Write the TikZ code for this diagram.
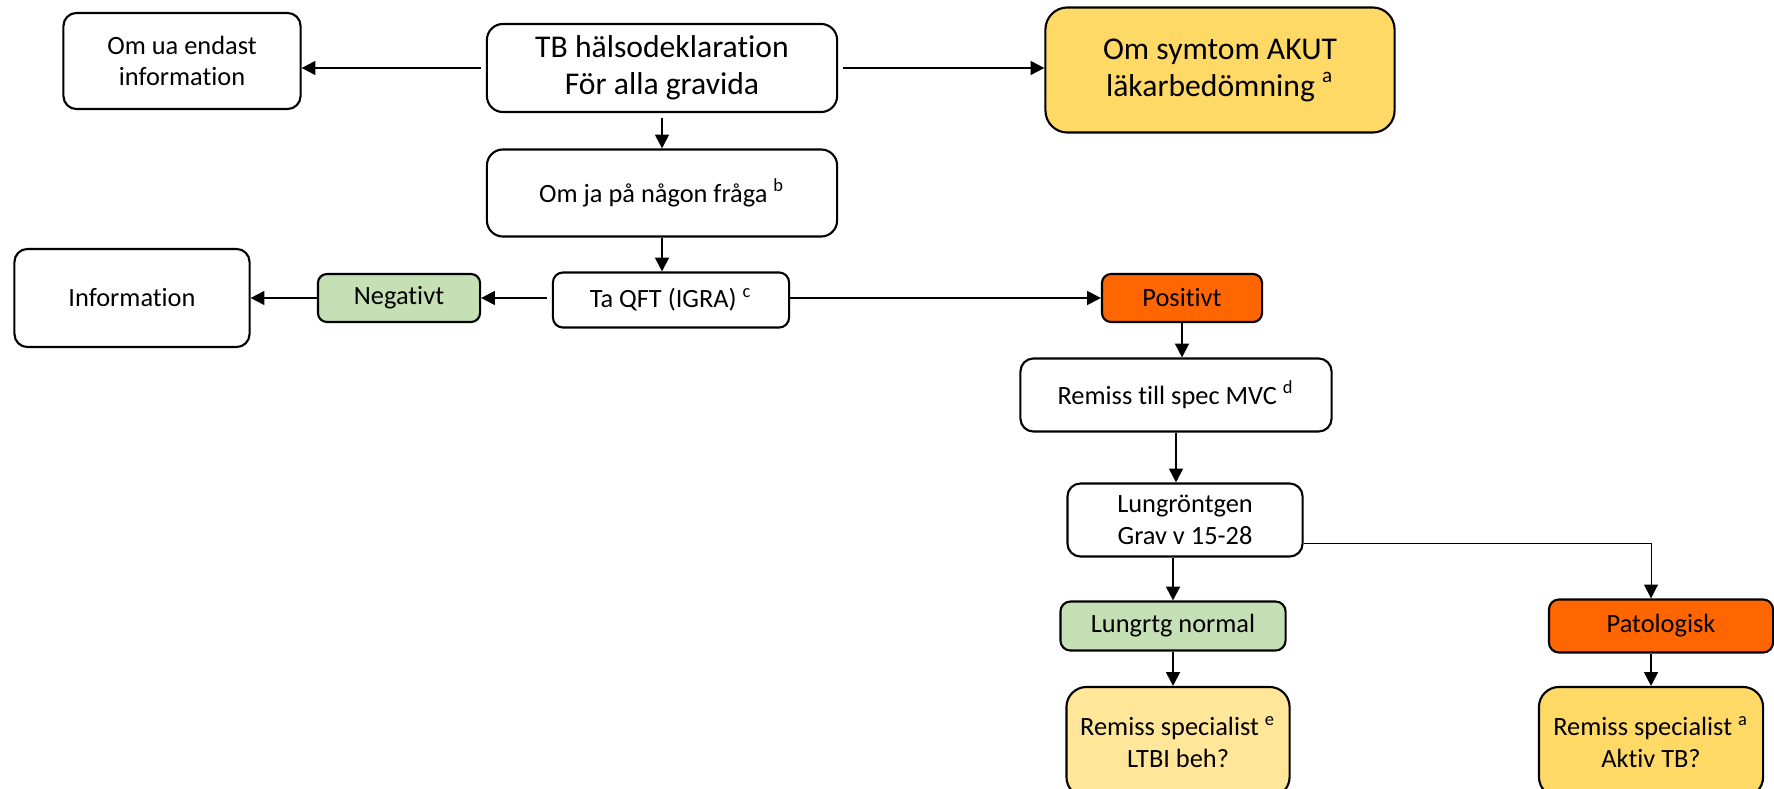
\documentclass[tikz,border=0pt]{standalone}
\usepackage{fontspec}
\setmainfont{Carlito}[Ligatures=NoCommon]
\usepackage{tikz}
\usetikzlibrary{arrows.meta}

\definecolor{grnbox}{HTML}{C5E0B4}
\definecolor{orgbox}{HTML}{FF6600}
\definecolor{goldbox}{HTML}{FFD966}
\definecolor{paleBox}{HTML}{FFE699}

\begin{document}
\begin{tikzpicture}
  [x=0.01cm,y=-0.01cm,
   every node/.style={draw=black, line width=0.6pt, rounded corners=1.3mm, align=center, inner sep=0pt, font=\fontsize{7.5}{9}\selectfont},
   big/.style={font=\fontsize{9}{10.5}\selectfont},
   pil/.style={-{Triangle[length=3.9pt,width=3.9pt]}, line width=0.6pt}]
  \clip (0,0) rectangle (1774,788);

  \node [minimum width=2.37cm, minimum height=0.96cm] (infoua) at (182,61) {Om ua endast\\information};
  \node [big, minimum width=3.5cm, minimum height=0.88cm, rounded corners=1.6mm] (tb) at (662,68) {TB hälsodeklaration\\För alla gravida};
  \node [big, fill=goldbox, minimum width=3.49cm, minimum height=1.25cm, rounded corners=2.2mm] (akut) at (1220,70) {Om symtom AKUT\\läkarbedömning \textsuperscript{a}};
  \node [minimum width=3.5cm, minimum height=0.87cm, rounded corners=1.6mm] (oja) at (662,193) {Om ja på någon fråga \textsuperscript{b}};

  \node [minimum width=2.35cm, minimum height=0.98cm] (info) at (132,298) {Information};
  \node [fill=grnbox, minimum width=1.62cm, minimum height=0.48cm, rounded corners=0.9mm] (neg) at (399,298) {Negativt};
  \node [minimum width=2.36cm, minimum height=0.55cm, rounded corners=1mm] (qft) at (671,300) {Ta QFT (IGRA) \textsuperscript{c}};
  \node [fill=orgbox, minimum width=1.6cm, minimum height=0.48cm, rounded corners=0.9mm] (pos) at (1182,298) {Positivt};

  \node [minimum width=3.11cm, minimum height=0.73cm] (mvc) at (1176,395) {Remiss till spec MVC \textsuperscript{d}};
  \node [minimum width=2.35cm, minimum height=0.73cm] (lung) at (1185,520) {Lungröntgen\\Grav v 15-28};

  \node [fill=grnbox, minimum width=2.25cm, minimum height=0.49cm, rounded corners=1mm] (normal) at (1173,626) {Lungrtg normal};
  \node [fill=orgbox, minimum width=2.24cm, minimum height=0.53cm, rounded corners=1mm] (pato) at (1661,626) {Patologisk};

  \node [fill=paleBox, minimum width=2.23cm, minimum height=1.1cm, rounded corners=2mm] (remE) at (1178,742) {Remiss specialist \textsuperscript{e}\\LTBI beh?};
  \node [fill=goldbox, minimum width=2.24cm, minimum height=1.1cm, rounded corners=2mm] (remA) at (1651,742) {Remiss specialist \textsuperscript{a}\\Aktiv TB?};

  \path [pil]
  (tb.west) edge [shorten <=1.5pt] (tb.west -| infoua.east)
  (tb.east) edge [shorten <=1.5pt] (tb.east -| akut.west)
  (tb.south) edge [shorten <=1.5pt] (oja.north)
  (oja.south) edge (oja.south |- qft.north)
  (neg.east -| qft.west) edge [shorten <=1.5pt] (neg.east)
  (neg.west) edge (info.east)
  (pos.west -| qft.east) edge (pos.west)
  (pos.south) edge (pos.south |- mvc.north)
  (mvc.south) edge (mvc.south |- lung.north)
  (normal.north |- lung.south) edge (normal.north)
  (normal.south) edge (normal.south |- remE.north)
  (pato.south -| remA.north) edge (remA.north);

  \draw [pil, line width=0.3pt] (lung.-11) -| (pato.north -| remA.north);
\end{tikzpicture}
\end{document}
